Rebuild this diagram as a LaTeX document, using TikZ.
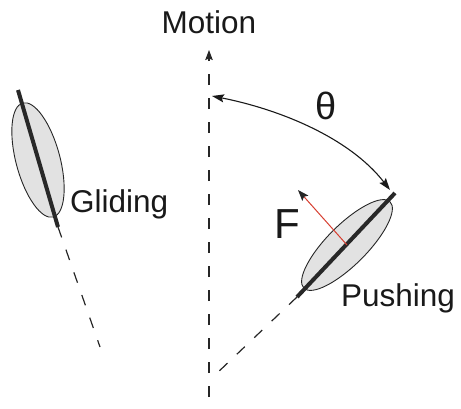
\documentclass[tikz,border=0pt]{standalone}
\usepackage{fontspec}
\setmainfont{Liberation Sans}
\usetikzlibrary{arrows.meta,shapes.geometric}
\definecolor{fillgray}{RGB}{226,226,226}
\definecolor{forcered}{RGB}{214,62,48}
\definecolor{darkline}{RGB}{40,40,40}
\begin{document}
\begin{tikzpicture}[x=1pt,y=-1pt,
  lbl/.style={inner sep=0pt, font=\fontsize{31.5}{37}\selectfont, text=black!90},
  flbl/.style={inner sep=0pt, font=\fontsize{42}{48}\selectfont, text=black!90},
  tlbl/.style={inner sep=0pt, font=\fontsize{38}{44}\selectfont, text=black!90},
  wing/.style={ellipse, draw=black!85, line width=0.9pt, fill=fillgray, inner sep=0pt},
  chord/.style={line width=4pt, draw=darkline},
  trail/.style={line width=1.2pt, draw=black!85, dash pattern=on 11pt off 13pt},
]
\useasboundingbox (0,0) rectangle (461,408);
% motion axis
\coordinate (mbot) at (209,397);
\coordinate (mtop) at (209,50);
\draw[trail, -{Stealth[length=10pt,width=7.5pt,inset=1.5pt]}] (mbot) -- (mtop);
\node[lbl, anchor=base] (motion) at (209,33) {Motion};

% gliding wing
\coordinate (g1) at (18,90);
\coordinate (g2) at (58,227);
\coordinate (g3) at (100,347);
\node[wing, minimum width=118pt, minimum height=44pt, rotate=105] (gw) at (38,160) {};
\draw[chord] (g1) -- (g2);
\draw[trail] (g2) -- (g3);
\node[lbl, anchor=base west] (glide) at (70,212) {Gliding};

% pushing wing
\coordinate (p1) at (395,193);
\coordinate (p2) at (297,297);
\coordinate (p3) at (215,375);
\node[wing, minimum width=122pt, minimum height=40pt, rotate=45] (pw) at (347,245) {};
\draw[chord] (p1) -- (p2);
\draw[trail] (p2) -- (p3);
\node[lbl, anchor=base west] (push) at (341,306) {Pushing};

% force
\coordinate (fend) at (298,190);
\draw[line width=1pt, forcered, -{Stealth[length=11pt,width=8pt,inset=2pt,color=black!85,fill=black!85]}] (pw.center) -- (fend);
\node[flbl, anchor=base west] (force) at (274,238) {F};

% angle arc
\coordinate (a1) at (212,96);
\coordinate (a2) at (390,190);
\draw[line width=1.1pt, black!90, {Stealth[length=12pt,width=8pt,inset=2pt]}-{Stealth[length=12pt,width=8pt,inset=2pt]}]
  (a1) .. controls (278,109) and (349,137) .. (a2);
\node[tlbl] (theta) at (326,106) {θ};
\end{tikzpicture}
\end{document}
